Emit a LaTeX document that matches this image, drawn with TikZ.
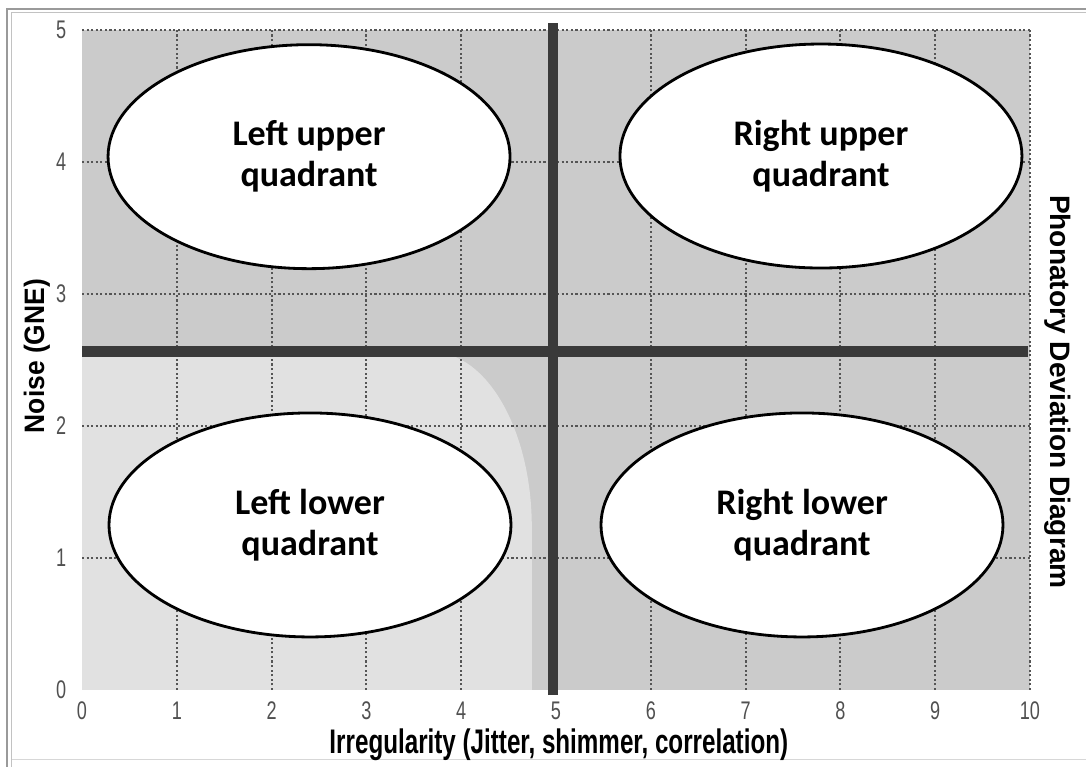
\documentclass[tikz,border=0pt]{standalone}
\usepackage{fontspec}
\usepackage{xcolor}
\usepackage{graphicx}
\usepackage{tikz}
\usetikzlibrary{positioning,shapes.geometric}
\setmainfont{Liberation Sans}
\newfontfamily\quadfont{Carlito}
\definecolor{plotgray}{HTML}{CBCBCB}
\definecolor{softlight}{HTML}{E1E1E1}
\definecolor{barcolor}{HTML}{3A3A3A}
\definecolor{gridcolor}{HTML}{555555}
\definecolor{ticktext}{HTML}{505050}
\definecolor{framegray}{HTML}{9A9A9A}
\newcommand{\narrow}[2][0.71]{\scalebox{#1}[1]{#2}}

\begin{document}
\begin{tikzpicture}[x=1.896cm,y=2.64cm,
    quad/.style={ellipse,draw,fill=white,line width=1.6pt,minimum width=8.04cm,minimum height=4.48cm,inner sep=0pt,align=center,font=\quadfont\bfseries\fontsize{20.5}{23.3}\selectfont},
    gridline/.style={gridcolor,line width=1.1pt,dash pattern=on 1.2pt off 1.4pt},
    bar/.style={barcolor,line width=6pt},
    tick/.style={font=\fontsize{14.5}{16}\selectfont,text=ticktext,inner sep=0pt},
    axistitle/.style={font=\bfseries\fontsize{19.4}{22}\selectfont,inner sep=0pt}]
        \useasboundingbox (-0.865,-0.583) rectangle (10.591,5.227);
        \draw[framegray,line width=0.8pt] (-0.791,-0.583) -- (-0.791,5.159) -- (10.591,5.159);
        \draw[framegray!60,line width=0.6pt] (-0.739,-0.583) -- (-0.739,5.129) -- (10.591,5.129);
        \draw[framegray!40,line width=0.6pt] (-0.739,-0.53) -- (10.591,-0.53);
        \fill[plotgray] (0,0) rectangle (10,5);
        \fill[softlight] (0,0) -- (0,2.56) -- (3.69,2.56) arc[start angle=90,end angle=0,x radius=1.055,y radius=1.33] -- (4.745,0) -- cycle;
        \foreach \i in {1,...,10} \draw[gridline] (\i,0) -- (\i,5);
        \foreach \j in {1,...,5} \draw[gridline] (0,\j) -- (10,\j);
        \draw[bar] (0,2.563) -- (9.98,2.563);
        \draw[bar,line width=5.7pt] (4.97,-0.04) -- (4.97,5.05);
        \node[quad] (lu) at (2.395,4.04) {Left upper\\quadrant};
        \node[quad] (ru) at (7.795,4.045) {Right upper\\quadrant};
        \node[quad] (ll) at (2.405,1.25) {Left lower\\quadrant};
        \node[quad] (rl) at (7.595,1.25) {Right lower\\quadrant};
        \foreach \i in {0,...,10} \node[tick] (xt\i) at (\i,-0.16) {\narrow{\i}};
        \foreach \j in {0,...,5} \node[tick] (yt\j) at (-0.22,\j) {\narrow{\j}};
        \node[axistitle] (xtitle) at (5.03,-0.417) {\narrow{Irregularity (Jitter, shimmer, correlation)}};
        \node[axistitle,rotate=90,font=\bfseries\fontsize{16}{18}\selectfont] (ytitle) at (-0.475,2.53) {\narrow[0.94]{Noise (GNE)}};
        \node[axistitle,rotate=-90,font=\bfseries\fontsize{16}{18}\selectfont] (rtitle) at (10.295,2.258) {Phonatory Deviation Diagram};
      \end{tikzpicture}
\end{document}
